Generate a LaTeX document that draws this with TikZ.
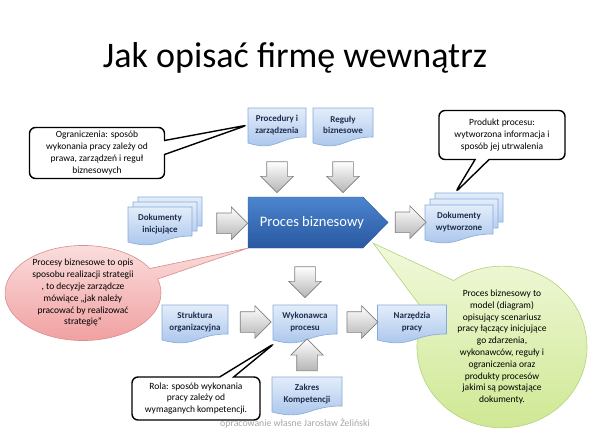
\documentclass[tikz,border=0pt]{standalone}
\usepackage{fontspec}
\setmainfont{Carlito}
\usetikzlibrary{calc,shapes.arrows,shapes.callouts}

\definecolor{docTop}{HTML}{E3EDFA}
\definecolor{docBot}{HTML}{A3C1EA}
\definecolor{docLine}{HTML}{86AADC}
\definecolor{docText}{HTML}{1F2D4D}
\definecolor{procTop}{HTML}{4C85CF}
\definecolor{procBot}{HTML}{2858A0}
\definecolor{arrBot}{HTML}{B5B5B5}
\definecolor{arrLine}{HTML}{7F7F7F}
\definecolor{redTop}{HTML}{FBE1E1}
\definecolor{redBot}{HTML}{F09C9C}
\definecolor{redLine}{HTML}{D98C8A}
\definecolor{grnTop}{HTML}{F1F9DC}
\definecolor{grnBot}{HTML}{CDE78F}
\definecolor{grnLine}{HTML}{B3D27A}
\definecolor{footGray}{HTML}{A6A6A6}

\newcommand{\callfont}{\fontsize{9.5}{11.8}\selectfont}
\newcommand{\docshape}[3]{%
  \draw[docfill] (#1-#3/2,#2) -- (#1+#3/2,#2) -- (#1+#3/2,#2+29)
    .. controls (#1,#2+29) and (#1,#2+44) .. (#1-#3/2,#2+35) -- cycle;}
\newcommand{\docbox}[5]{%
  \docshape{#2}{#3}{#4}
  \node[doctext, minimum width=#4] (#1) at (#2,#3+17) {#5};}

\begin{document}
\begin{tikzpicture}[x=1pt,y=-1pt,
  docfill/.style={draw=docLine, line width=0.6pt, top color=docTop, bottom color=docBot},
  doctext/.style={font=\bfseries\fontsize{9}{11.5}\selectfont, text=docText, align=center,
    minimum height=32pt, inner sep=0pt},
  blockarr/.style={single arrow, draw=arrLine, line width=0.6pt, top color=white,
    bottom color=arrBot, minimum height=27pt, minimum width=0pt,
    single arrow head extend=6pt, inner sep=10pt},
  callbox/.style={rectangle callout, draw=black, line width=1.4pt, fill=white,
    rounded corners=6pt, align=center, font=\callfont, callout pointer width=14pt,
    inner sep=0pt},
  bubble/.style={ellipse callout, line width=0.6pt, align=center, font=\callfont,
    inner sep=0pt}]
\useasboundingbox (0,0) rectangle (590,442);

\node[font=\fontsize{36}{40}\selectfont, anchor=base] (title) at (295,67) {Jak opisać firmę wewnątrz};

\docbox{proc1}{277}{108}{58}{Procedury i\\zarządzenia}
\docbox{regul}{343}{108}{60}{Reguły\\biznesowe}

\draw[draw=procBot, top color=procTop, bottom color=procBot]
  (248,197) -- (363,197) -- (388,222.5) -- (363,248) -- (248,248) -- cycle;
\node[text=white, font=\fontsize{14.5}{17}\selectfont, minimum width=128pt, minimum height=51pt,
  inner sep=0pt] (proc) at (312,222.5) {Proces biznesowy};

\node[blockarr, shape border rotate=270] (a1) at ($(proc1.south)!.5!(proc1.south |- proc.north)+(0,3)$) {};
\node[blockarr, shape border rotate=270] (a2) at ($(regul.south)!.5!(regul.south |- proc.north)+(0,3)$) {};

\docshape{170}{197}{64}
\docshape{165}{202}{64}
\docbox{dokin}{160}{207}{64}{Dokumenty\\inicjujące}
\docshape{469}{193}{68}
\docshape{464}{199}{68}
\docbox{dokwy}{459}{205}{68}{Dokumenty\\wytworzone}

\node[blockarr, minimum height=29pt] (a3) at ($(dokin.east)!.5!(proc.west)+(7,0)$) {};
\node[blockarr, minimum height=25pt] (a4) at ($(proc.east)!.5!(dokwy.west)+(5,0)$) {};

\node[bubble, top color=redTop, bottom color=redBot, draw=redLine, minimum width=156pt,
  minimum height=80pt, callout pointer arc=14, callout absolute pointer={(proc.south west)}]
  (strat) at (83,293) {Procesy biznesowe to opis\\sposobu realizacji strategii\\, to decyzje zarządcze\\mówiące „jak należy\\pracować by realizować\\strategię”};
\node[bubble, top color=grnTop, bottom color=grnBot, draw=grnLine, minimum width=170pt,
  minimum height=160pt, callout pointer arc=30, callout absolute pointer={($(proc.south east)+(-3,-5)$)}]
  (model) at (502,347) {Proces biznesowy to\\model (diagram)\\opisujący scenariusz\\pracy łączący inicjujące\\go zdarzenia,\\wykonawców, reguły i\\ograniczenia oraz\\produkty procesów\\jakimi są powstające\\dokumenty.};

\docbox{strukt}{195}{305}{66}{Struktura\\organizacyjna}
\docbox{wyk}{305}{305}{64}{Wykonawca\\procesu}
\docbox{narz}{412}{305}{69}{Narzędzia\\pracy}
\docbox{zakres}{307}{377}{70}{Zakres\\Kompetencji}

\node[blockarr, shape border rotate=270, minimum height=25pt] (a5) at ($(wyk.north)!.5!(wyk.north |- proc.south)$) {};
\node[blockarr] (a6) at ($(strukt.east)!.5!(wyk.west)$) {};
\node[blockarr] (a7) at ($(wyk.east)!.5!(narz.west)$) {};
\node[blockarr, shape border rotate=90, minimum height=32pt] (a8) at ($(zakres.north)!.5!(zakres.north |- wyk.south)+(0,2)$) {};

\node[callbox, minimum width=135pt, minimum height=51pt,
  callout absolute pointer={(proc1.west)}] (ogr) at (97,153)
  {Ograniczenia: sposób\\wykonania pracy zależy od\\prawa, zarządzeń i reguł\\biznesowych};
\node[callbox, minimum width=126pt, minimum height=49pt,
  callout absolute pointer={($(dokwy.north)+(-4,-13)$)}] (prod) at (502,135)
  {Produkt procesu:\\wytworzona informacja i\\sposób jej utrwalenia};
\node[callbox, minimum width=128pt, minimum height=43pt,
  callout absolute pointer={($(wyk.south west)+(2,5)$)}] (rola) at (196,398.5)
  {Rola: sposób wykonania\\pracy zależy od\\wymaganych kompetencji.};

\node[font=\fontsize{9.8}{12}\selectfont, text=footGray, anchor=base] (foot) at (295,426) {opracowanie własne Jarosław Żeliński};
\end{tikzpicture}
\end{document}
